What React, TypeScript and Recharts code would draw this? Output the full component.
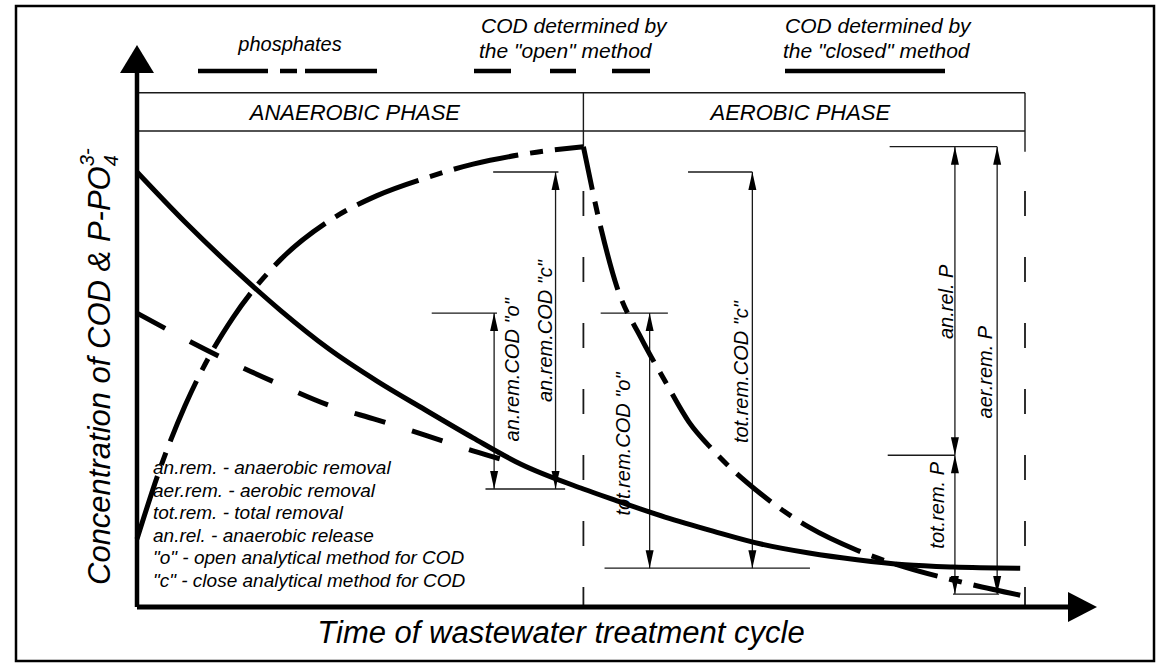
import React from "react";
import { ComposedChart, Line, XAxis, YAxis, ReferenceLine, ReferenceDot } from "recharts";

// time of cycle runs 0..100, concentration 0..100 (relative units)
const phaseSplit = 46.5;
const cycleEnd = 92.5;
const boxTop = 91.5;
const boxBottom = 84.7;

// COD, "closed" method (solid)
const codClosed = [
  { t: 0, c: 77.4 }, { t: 5, c: 68.5 }, { t: 10, c: 60.3 }, { t: 15, c: 52.7 },
  { t: 20, c: 45.9 }, { t: 25, c: 40.2 }, { t: 30, c: 35.1 }, { t: 35, c: 30.1 },
  { t: 40, c: 25.4 }, { t: 46.5, c: 21.0 }, { t: 50, c: 18.9 }, { t: 55, c: 16.0 },
  { t: 60, c: 13.5 }, { t: 65, c: 11.2 }, { t: 70, c: 9.6 }, { t: 75, c: 8.4 },
  { t: 80, c: 7.5 }, { t: 85, c: 7.1 }, { t: 92, c: 6.9 },
];

// COD, "open" method (dashed)
const codOpen = [
  { t: 0, c: 52.3 }, { t: 5, c: 47.7 }, { t: 10, c: 43.4 }, { t: 15, c: 39.5 },
  { t: 20, c: 35.9 }, { t: 25, c: 33.3 }, { t: 30, c: 30.6 }, { t: 35, c: 27.8 },
  { t: 40, c: 25.3 },
];

// phosphates (dash-dot), release then uptake
const phosphateUp = [
  { t: 0, c: 12.1 }, { t: 2.5, c: 25.1 }, { t: 5, c: 35.8 }, { t: 7.5, c: 44.5 },
  { t: 10, c: 51.5 }, { t: 15, c: 61.9 }, { t: 20, c: 68.7 }, { t: 25, c: 73.2 },
  { t: 30, c: 76.3 }, { t: 35, c: 78.8 }, { t: 40, c: 80.5 }, { t: 46.5, c: 81.9 },
];
const phosphateDown = [
  { t: 46.5, c: 81.9 }, { t: 48.3, c: 67.6 }, { t: 50, c: 56.9 }, { t: 52.5, c: 47.9 },
  { t: 55, c: 40.2 }, { t: 57.5, c: 32.9 }, { t: 60, c: 27.9 }, { t: 65, c: 20.1 },
  { t: 70, c: 14.2 }, { t: 75, c: 10.1 }, { t: 80, c: 7.1 }, { t: 85, c: 4.8 },
  { t: 92, c: 2.1 },
];

// dimension arrows: position, top value, bottom value, label and label centre
const dimensions = [
  { t: 37.2, top: 52.3, bottom: 21.0, label: 'an.rem.COD "o"', lt: 39.1, lc: 42.2 },
  { t: 43.6, top: 77.4, bottom: 21.0, label: 'an.rem.COD "c"', lt: 42.5, lc: 49.1 },
  { t: 53.4, top: 52.3, bottom: 6.9, label: 'tot.rem.COD "o"', lt: 50.6, lc: 29.0 },
  { t: 64.1, top: 77.4, bottom: 6.9, label: 'tot.rem.COD "c"', lt: 62.9, lc: 41.8 },
  { t: 85.2, top: 81.9, bottom: 27.0, label: "an.rel. P", lt: 84.3, lc: 54.3 },
  { t: 85.2, top: 27.0, bottom: 2.3, label: "tot.rem. P", lt: 83.3, lc: 18.1 },
  { t: 89.6, top: 81.9, bottom: 2.3, label: "aer.rem. P", lt: 88.3, lc: 41.8 },
];

// extension (tick) lines of the dimensions
const extLines = [
  { from: 30.7, to: 37.5, c: 52.3 },
  { from: 37.1, to: 43.9, c: 77.4 },
  { from: 36.3, to: 44.6, c: 21.0 },
  { from: 48.3, to: 55.3, c: 52.3 },
  { from: 57.4, to: 64.1, c: 77.4 },
  { from: 48.7, to: 70.1, c: 6.9 },
  { from: 78.4, to: 89.6, c: 81.9 },
  { from: 78.2, to: 85.2, c: 27.0 },
  { from: 85.0, to: 89.8, c: 2.3 },
];

const phases = [
  { name: "ANAEROBIC PHASE", t: 22.7 },
  { name: "AEROBIC PHASE", t: 69.1 },
];

const glossary = [
  "an.rem. - anaerobic removal",
  "aer.rem. - aerobic removal",
  "tot.rem. - total removal",
  "an.rel. - anaerobic release",
  '"o" - open analytical method for COD',
  '"c" - close analytical method for COD',
];

const FONT = "'Liberation Sans', Arial, Helvetica, sans-serif";
const INK = "#000";
const THIN = "#1a1a1a";

const arrowShape = (dir: "up" | "down") => (p: any) => {
  const { cx, cy } = p;
  const pts =
    dir === "up"
      ? `${cx},${cy} ${cx - 4},${cy + 18} ${cx + 4},${cy + 18}`
      : `${cx},${cy} ${cx - 4},${cy - 18} ${cx + 4},${cy - 18}`;
  return <polygon points={pts} fill={INK} />;
};

const vLabel = (text: string, size: number) => (p: any) => (
  <text
    x={p.cx}
    y={p.cy}
    transform={`rotate(-90 ${p.cx} ${p.cy})`}
    textAnchor="middle"
    dy="0.35em"
    fontFamily={FONT}
    fontStyle="italic"
    fontSize={size}
    fill={INK}
  >
    {text}
  </text>
);

const hLabel = (text: string, size: number) => (p: any) => (
  <text
    x={p.cx}
    y={p.cy}
    textAnchor="middle"
    dy="0.35em"
    fontFamily={FONT}
    fontStyle="italic"
    fontSize={size}
    fill={INK}
  >
    {text}
  </text>
);

const App = () => {
  return (
    <div style={{ position: "absolute", left: 0, top: 0, width: 1157, height: 664, background: "#fff" }}>
      <ComposedChart
        width={1157}
        height={664}
        margin={{ top: 45, right: 60, bottom: 57, left: 137 }}
      >
        <XAxis type="number" dataKey="t" domain={[0, 100]} hide />
        <YAxis type="number" dataKey="c" domain={[0, 100]} hide />

        {/* phase box and dividers */}
        <ReferenceLine segment={[{ x: 0, y: boxTop }, { x: cycleEnd, y: boxTop }]} stroke={THIN} strokeWidth={1.4} />
        <ReferenceLine segment={[{ x: 0, y: boxBottom }, { x: cycleEnd, y: boxBottom }]} stroke={THIN} strokeWidth={1.4} />
        <ReferenceLine segment={[{ x: cycleEnd, y: boxTop }, { x: cycleEnd, y: 81 }]} stroke={THIN} strokeWidth={1.4} />
        <ReferenceLine segment={[{ x: cycleEnd, y: 74 }, { x: cycleEnd, y: 0 }]} stroke={THIN} strokeWidth={1.8} strokeDasharray="25 41" />
        <ReferenceLine segment={[{ x: phaseSplit, y: boxTop }, { x: phaseSplit, y: 81.9 }]} stroke={THIN} strokeWidth={1.4} />
        <ReferenceLine segment={[{ x: phaseSplit, y: 74 }, { x: phaseSplit, y: 0 }]} stroke={THIN} strokeWidth={1.8} strokeDasharray="25 41" />
        {phases.map((ph) => (
          <ReferenceDot key={ph.name} x={ph.t} y={(boxTop + boxBottom) / 2} ifOverflow="visible" shape={hLabel(ph.name, 22)} />
        ))}

        {/* dimension lines */}
        {extLines.map((e, i) => (
          <ReferenceLine key={`ext-${i}`} segment={[{ x: e.from, y: e.c }, { x: e.to, y: e.c }]} stroke={THIN} strokeWidth={1.3} />
        ))}
        {dimensions.map((d, i) => (
          <ReferenceLine key={`dim-${i}`} segment={[{ x: d.t, y: d.top }, { x: d.t, y: d.bottom }]} stroke={THIN} strokeWidth={1.3} />
        ))}
        {dimensions.map((d, i) => (
          <ReferenceDot key={`up-${i}`} x={d.t} y={d.top} ifOverflow="visible" shape={arrowShape("up")} />
        ))}
        {dimensions.map((d, i) => (
          <ReferenceDot key={`dn-${i}`} x={d.t} y={d.bottom} ifOverflow="visible" shape={arrowShape("down")} />
        ))}
        {dimensions.map((d, i) => (
          <ReferenceDot key={`lab-${i}`} x={d.lt} y={d.lc} ifOverflow="visible" shape={vLabel(d.label, 20)} />
        ))}

        {/* curves */}
        <Line data={codClosed} dataKey="c" type="monotone" stroke={INK} strokeWidth={5} dot={false} isAnimationActive={false} />
        <Line data={codOpen} dataKey="c" type="monotone" stroke={INK} strokeWidth={5} strokeDasharray="32 28" dot={false} isAnimationActive={false} />
        <Line data={phosphateUp} dataKey="c" type="monotone" stroke={INK} strokeWidth={5} strokeDasharray="66 12 13 12" dot={false} isAnimationActive={false} />
        <Line data={phosphateDown} dataKey="c" type="monotone" stroke={INK} strokeWidth={5} strokeDasharray="44 12 13 12 66 12 13 12" dot={false} isAnimationActive={false} />

        {/* axes with arrowheads */}
        <ReferenceLine segment={[{ x: 0, y: 0 }, { x: 0, y: 95 }]} stroke={INK} strokeWidth={4.5} />
        <ReferenceLine segment={[{ x: 0, y: 0 }, { x: 97, y: 0 }]} stroke={INK} strokeWidth={5} />
        <ReferenceDot
          x={0}
          y={100}
          ifOverflow="visible"
          shape={(p: any) => (
            <polygon points={`${p.cx},${p.cy} ${p.cx - 17},${p.cy + 28} ${p.cx + 17},${p.cy + 28}`} fill={INK} />
          )}
        />
        <ReferenceDot
          x={100}
          y={0}
          ifOverflow="visible"
          shape={(p: any) => (
            <polygon points={`${p.cx},${p.cy} ${p.cx - 29},${p.cy - 15} ${p.cx - 29},${p.cy + 15}`} fill={INK} />
          )}
        />
      </ComposedChart>

      {/* titles, legend, frame */}
      <svg
        width={1157}
        height={664}
        style={{ position: "absolute", left: 0, top: 0, pointerEvents: "none" }}
        fontFamily={FONT}
        fontStyle="italic"
        fill={INK}
      >
        <rect x={16} y={6} width={1138} height={655} fill="none" stroke={INK} strokeWidth={2.5} />

        <text x={290} y={51} fontSize={20} textAnchor="middle">phosphates</text>
        <line x1={198} y1={71} x2={377} y2={71} stroke={INK} strokeWidth={4.5} strokeDasharray="70 12 17 8 72 100" />

        <text x={481} y={33} fontSize={21}>COD determined by</text>
        <text x={479} y={58} fontSize={21}>the "open" method</text>
        <line x1={474} y1={71} x2={650} y2={71} stroke={INK} strokeWidth={4.5} strokeDasharray="37 39 26 36 38 100" />

        <text x={785} y={33} fontSize={21}>COD determined by</text>
        <text x={783} y={58} fontSize={21}>the "closed" method</text>
        <line x1={785} y1={71} x2={945} y2={71} stroke={INK} strokeWidth={4.5} />

        {glossary.map((g, i) => (
          <text key={g} x={153} y={474 + i * 22.6} fontSize={19}>{g}</text>
        ))}

        <text x={561} y={643} fontSize={31} textAnchor="middle">Time of wastewater treatment cycle</text>
        <text x={110} y={585} fontSize={31} transform="rotate(-90 110 585)">
          Concentration of COD &amp; P-PO
          <tspan dy={8} fontSize={20}>4</tspan>
          <tspan dx={-11} dy={-24} fontSize={20}>3-</tspan>
        </text>
      </svg>
    </div>
  );
};

export default App;
